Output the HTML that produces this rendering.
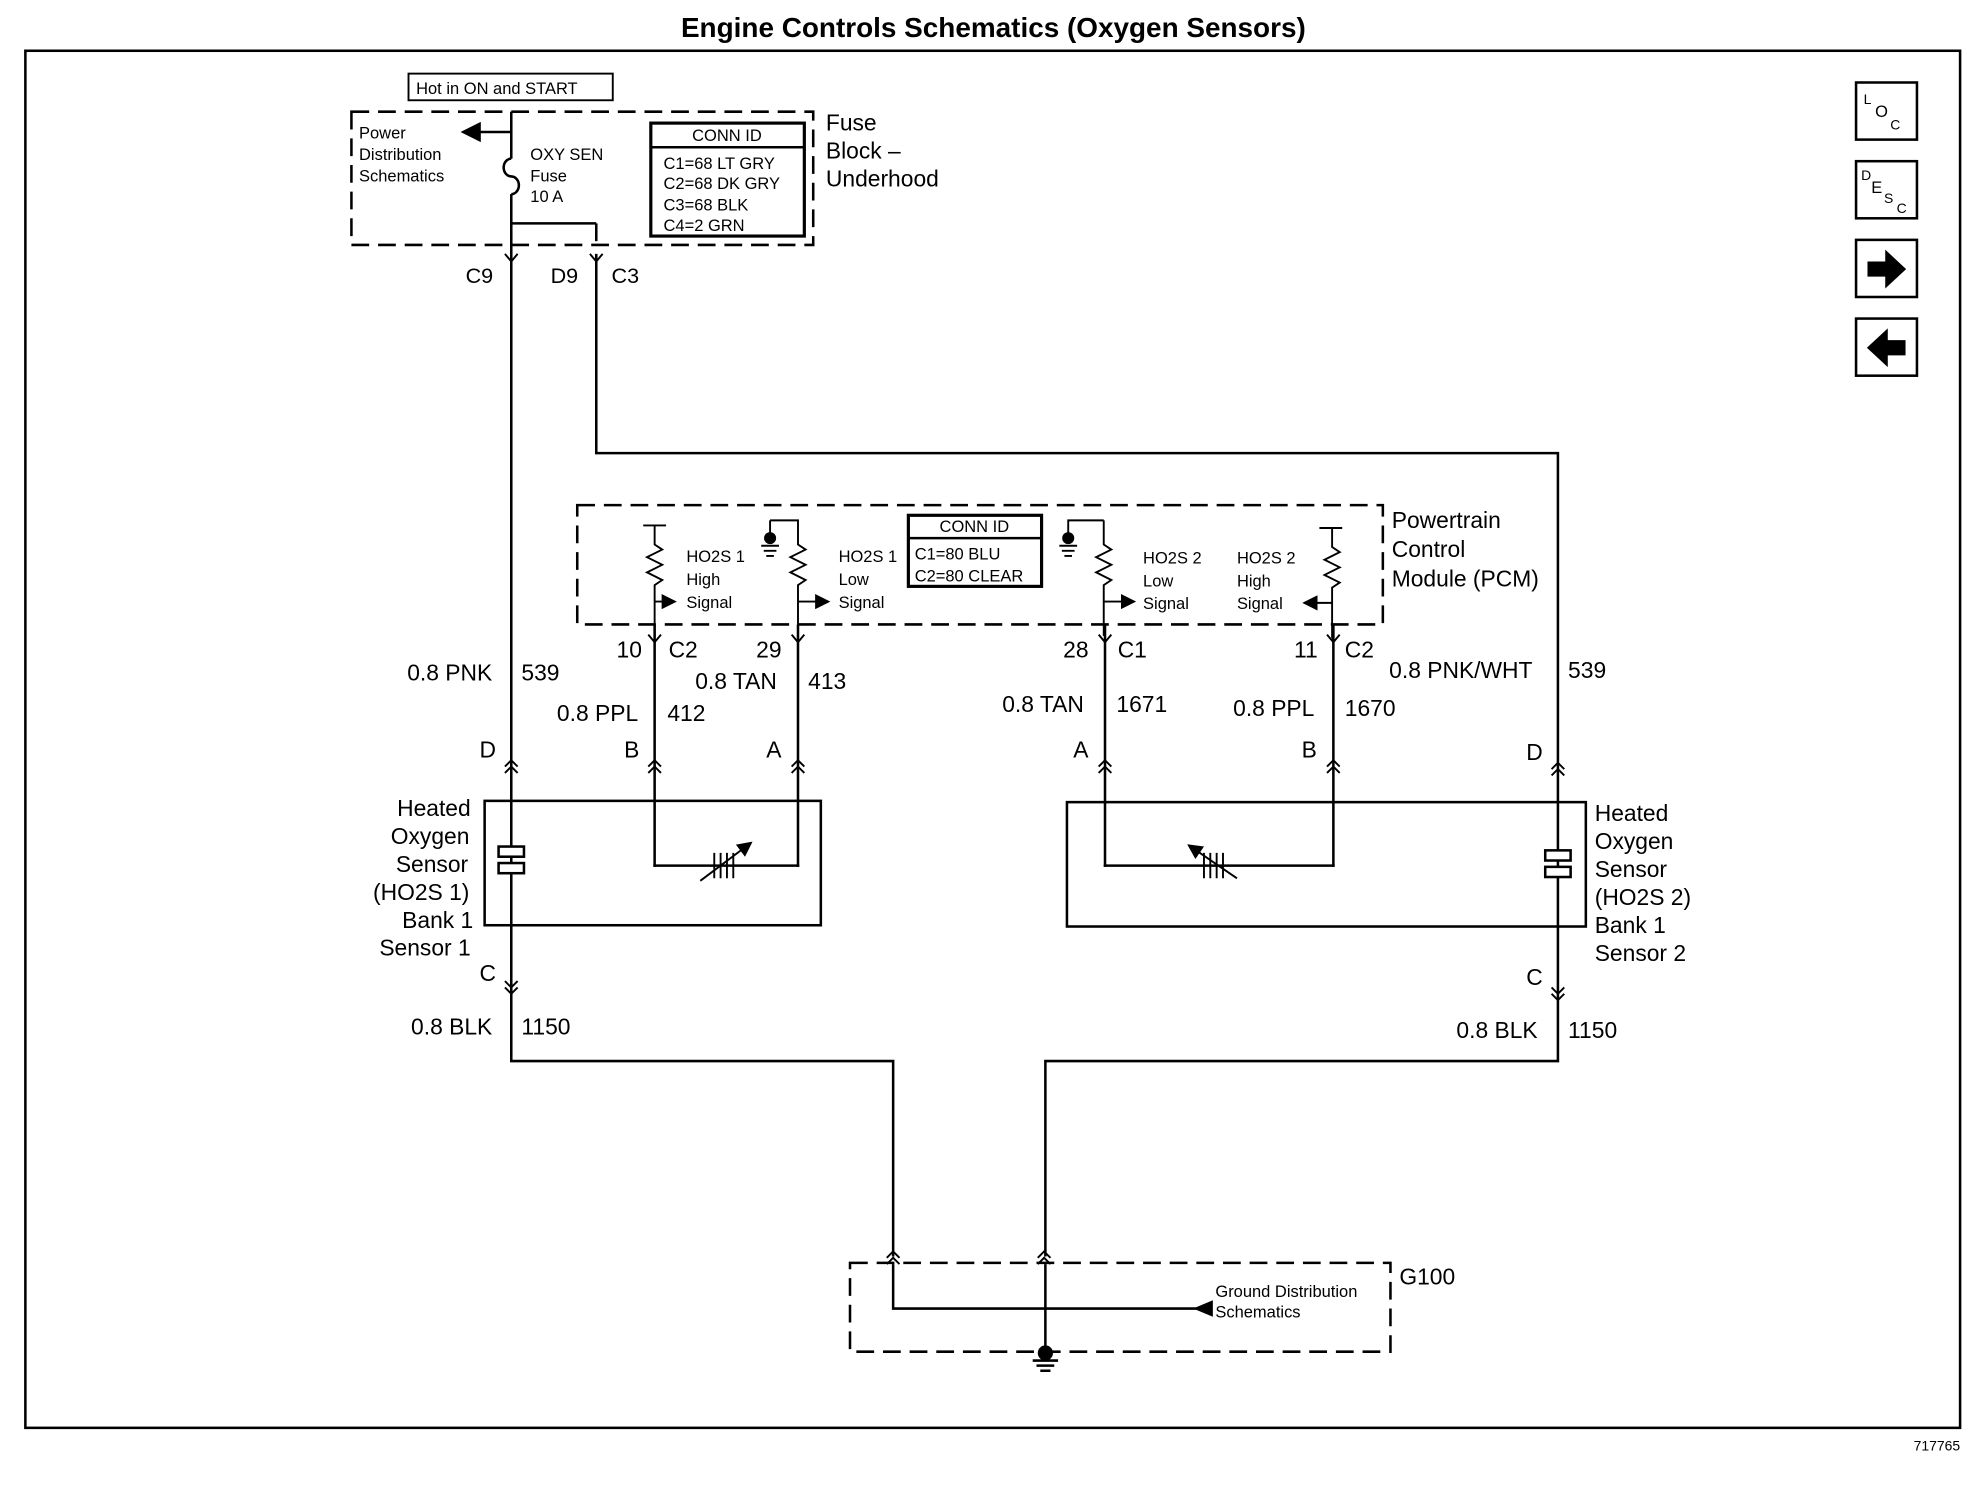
<!DOCTYPE html>
<html><head><meta charset="utf-8"><style>
html,body{margin:0;padding:0;background:#fff;}
svg{display:block;}
text{font-family:"Liberation Sans",Arial,sans-serif;fill:#000;}
</style></head><body>
<svg width="1988" height="1504" viewBox="0 0 1567 1185" preserveAspectRatio="none" xmlns="http://www.w3.org/2000/svg">
<defs>
<marker id="ah" markerWidth="8" markerHeight="8" refX="7" refY="4" orient="auto"><path d="M0,0 L8,4 L0,8z" fill="#000"/></marker>
</defs>
<g stroke="#000" fill="none" stroke-width="2">
<text x="783" y="29" text-anchor="middle" font-size="22" font-weight="bold" stroke="none">Engine Controls Schematics (Oxygen Sensors)</text>
<rect x="20" y="40" width="1525" height="1085"/>
<text x="1545" y="1143" font-size="11" text-anchor="end" stroke="none">717765</text>
<rect x="1463" y="65" width="48" height="45"/>
<text x="1469" y="82" font-size="11" stroke="none">L</text><text x="1478" y="92" font-size="13" stroke="none">O</text><text x="1490" y="102" font-size="11" stroke="none">C</text>
<rect x="1463" y="127" width="48" height="45"/>
<text x="1467" y="142" font-size="11" stroke="none">D</text><text x="1475" y="152" font-size="13" stroke="none">E</text><text x="1485" y="160" font-size="11" stroke="none">S</text><text x="1495" y="168" font-size="11" stroke="none">C</text>
<rect x="1463" y="189" width="48" height="45"/>
<path d="M1473,207 h14 v-8 l14,13 l-14,13 v-8 h-14z" fill="#000"/>
<rect x="1463" y="251" width="48" height="45"/>
<path d="M1501,269 h-14 v-8 l-14,13 l14,13 v-8 h14z" fill="#000"/>
<rect x="322" y="58" width="161" height="21" stroke-width="1.5"/>
<text x="328" y="74" font-size="13" stroke="none">Hot in ON and START</text>
<rect x="277" y="88" width="364" height="105" stroke-dasharray="14,7"/>
<text x="283" y="109" font-size="13" stroke="none">Power</text>
<text x="283" y="126" font-size="13" stroke="none">Distribution</text>
<text x="283" y="143" font-size="13" stroke="none">Schematics</text>
<line x1="403" y1="88" x2="403" y2="125"/>
<line x1="403" y1="104" x2="365" y2="104" marker-end="url(#ah)"/>
<path d="M403,125 a6,7 0 0 0 0,14 a6,7 0 0 1 0,14"/>
<line x1="403" y1="153" x2="403" y2="810"/>
<line x1="403" y1="176" x2="470" y2="176"/>
<line x1="470" y1="176" x2="470" y2="190"/>
<text x="418" y="126" font-size="13" stroke="none">OXY SEN</text>
<text x="418" y="143" font-size="13" stroke="none">Fuse</text>
<text x="418" y="159" font-size="13" stroke="none">10 A</text>
<rect x="513" y="97" width="121" height="89" stroke-width="2.5"/>
<line x1="513" y1="116" x2="634" y2="116"/>
<text x="573" y="111" font-size="13" text-anchor="middle" stroke="none">CONN ID</text>
<text x="523" y="133" font-size="13" stroke="none">C1=68 LT GRY</text>
<text x="523" y="149" font-size="13" stroke="none">C2=68 DK GRY</text>
<text x="523" y="166" font-size="13" stroke="none">C3=68 BLK</text>
<text x="523" y="182" font-size="13" stroke="none">C4=2 GRN</text>
<text x="651" y="103" font-size="18" stroke="none">Fuse</text>
<text x="651" y="125" font-size="18" stroke="none">Block –</text>
<text x="651" y="147" font-size="18" stroke="none">Underhood</text>
<path d="M398,200 l5,6 l5,-6 M465,200 l5,6 l5,-6" stroke-width="1.5"/>
<text x="367" y="223" font-size="17" stroke="none">C9</text>
<text x="434" y="223" font-size="17" stroke="none">D9</text>
<text x="482" y="223" font-size="17" stroke="none">C3</text>
<polyline points="470,200 470,357 1228,357 1228,810"/>
<rect x="455" y="398" width="635" height="94" stroke-dasharray="14,7"/>
<text x="1097" y="416" font-size="18" stroke="none">Powertrain</text>
<text x="1097" y="439" font-size="18" stroke="none">Control</text>
<text x="1097" y="462" font-size="18" stroke="none">Module (PCM)</text>
<rect x="716" y="406" width="105" height="56" stroke-width="2.5"/>
<line x1="716" y1="424" x2="821" y2="424"/>
<text x="768" y="419" font-size="13" text-anchor="middle" stroke="none">CONN ID</text>
<text x="721" y="441" font-size="13" stroke="none">C1=80 BLU</text>
<text x="721" y="458" font-size="13" stroke="none">C2=80 CLEAR</text>
<g stroke-width="1.5">
<path d="M507,414 h18 M516,414 v15 l6,4 l-12,6 l12,6 l-12,6 l12,6 l-6,4 v40"/>
<line x1="516" y1="474" x2="532" y2="474" marker-end="url(#ah)"/>
<path d="M607,410 h22 v19 l6,4 l-12,6 l12,6 l-12,6 l12,6 l-6,4 v40 M607,410 v14 M600,430 h14 M602,434 h10 M604,438 h6"/>
<circle cx="607" cy="424" r="4" fill="#000"/>
<line x1="629" y1="474" x2="653" y2="474" marker-end="url(#ah)"/>
<path d="M870,410 h-28 v14 M835,430 h14 M837,434 h10 M839,438 h6 M870,410 v19 l6,4 l-12,6 l12,6 l-12,6 l12,6 l-6,4 v40"/>
<circle cx="842" cy="424" r="4" fill="#000"/>
<line x1="870" y1="474" x2="894" y2="474" marker-end="url(#ah)"/>
<path d="M1040,416 h18 M1050,416 v15 l6,4 l-12,6 l12,6 l-12,6 l12,6 l-6,4 v40"/>
<line x1="1050" y1="475" x2="1028" y2="475" marker-end="url(#ah)"/>
</g>
<g font-size="13" stroke="none">
<text x="541" y="443">HO2S 1</text><text x="541" y="461">High</text><text x="541" y="479">Signal</text>
<text x="661" y="443">HO2S 1</text><text x="661" y="461">Low</text><text x="661" y="479">Signal</text>
<text x="901" y="444">HO2S 2</text><text x="901" y="462">Low</text><text x="901" y="480">Signal</text>
<text x="975" y="444">HO2S 2</text><text x="975" y="462">High</text><text x="975" y="480">Signal</text>
</g>
<path d="M511,500 l5,6 l5,-6 M624,500 l5,6 l5,-6 M866,500 l5,6 l5,-6 M1046,500 l5,6 l5,-6" stroke-width="1.5"/>
<line x1="516" y1="492" x2="516" y2="683"/>
<line x1="629" y1="492" x2="629" y2="683"/>
<line x1="871" y1="492" x2="871" y2="683"/>
<line x1="1051" y1="492" x2="1051" y2="683"/>
<g font-size="18" stroke="none">
<text x="486" y="518">10</text><text x="527" y="518">C2</text>
<text x="596" y="518">29</text>
<text x="838" y="518">28</text><text x="881" y="518">C1</text>
<text x="1020" y="518">11</text><text x="1060" y="518">C2</text>
<text x="321" y="536">0.8 PNK</text><text x="411" y="536">539</text>
<text x="548" y="543">0.8 TAN</text><text x="637" y="543">413</text>
<text x="439" y="568">0.8 PPL</text><text x="526" y="568">412</text>
<text x="790" y="561">0.8 TAN</text><text x="880" y="561">1671</text>
<text x="972" y="564">0.8 PPL</text><text x="1060" y="564">1670</text>
<text x="1095" y="534">0.8 PNK/WHT</text><text x="1236" y="534">539</text>
<text x="378" y="597">D</text><text x="492" y="597">B</text><text x="604" y="597">A</text>
<text x="846" y="597">A</text><text x="1026" y="597">B</text><text x="1203" y="599">D</text>
<text x="378" y="773">C</text><text x="1203" y="776">C</text>
<text x="324" y="815">0.8 BLK</text><text x="411" y="815">1150</text>
<text x="1148" y="818">0.8 BLK</text><text x="1236" y="818">1150</text>
<text x="313" y="643">Heated</text><text x="308" y="665">Oxygen</text><text x="312" y="687">Sensor</text>
<text x="294" y="709">(HO2S 1)</text><text x="317" y="731">Bank 1</text><text x="299" y="753">Sensor 1</text>
<text x="1257" y="647">Heated</text><text x="1257" y="669">Oxygen</text><text x="1257" y="691">Sensor</text>
<text x="1257" y="713">(HO2S 2)</text><text x="1257" y="735">Bank 1</text><text x="1257" y="757">Sensor 2</text>
<text x="1103" y="1012">G100</text>
</g>
<g stroke-width="1.5">
<path d="M398,604 l5,-5 l5,5 M398,609 l5,-5 l5,5"/>
<path d="M511,604 l5,-5 l5,5 M511,609 l5,-5 l5,5"/>
<path d="M624,604 l5,-5 l5,5 M624,609 l5,-5 l5,5"/>
<path d="M866,604 l5,-5 l5,5 M866,609 l5,-5 l5,5"/>
<path d="M1046,604 l5,-5 l5,5 M1046,609 l5,-5 l5,5"/>
<path d="M1223,606 l5,-5 l5,5 M1223,611 l5,-5 l5,5"/>
<path d="M398,773 l5,5 l5,-5 M398,778 l5,5 l5,-5"/>
<path d="M1223,778 l5,5 l5,-5 M1223,783 l5,5 l5,-5"/>
<path d="M699,991 l5,-5 l5,5 M699,996 l5,-5 l5,5"/>
<path d="M818,991 l5,-5 l5,5 M818,996 l5,-5 l5,5"/>
</g>
<rect x="382" y="631" width="265" height="98"/>
<rect x="841" y="632" width="409" height="98"/>
<polyline points="516,683 516,682 629,682 629,683"/>
<polyline points="871,683 871,682 1051,682 1051,683"/>
<g stroke-width="1.5">
<path d="M553,682 h10 M563,672 v20 M568,672 v20 M573,672 v20 M578,672 v20"/>
<line x1="552" y1="694" x2="592" y2="664" marker-end="url(#ah)"/>
<path d="M949,672 v20 M954,672 v20 M959,672 v20 M964,672 v20"/>
<line x1="975" y1="692" x2="937" y2="666" marker-end="url(#ah)"/>
</g>
<rect x="393" y="667" width="20" height="8" fill="#fff"/>
<rect x="393" y="680" width="20" height="8" fill="#fff"/>
<rect x="1218" y="670" width="20" height="8" fill="#fff"/>
<rect x="1218" y="683" width="20" height="8" fill="#fff"/>
<polyline points="403,810 403,836 704,836 704,990"/>
<polyline points="1228,810 1228,836 824,836 824,990"/>
<rect x="670" y="995" width="426" height="70" stroke-dasharray="14,7"/>
<polyline points="704,996 704,1031 955,1031"/>
<path d="M943,1031 l12,-5 v10z" fill="#000"/>
<line x1="824" y1="996" x2="824" y2="1072"/>
<circle cx="824" cy="1066" r="5" fill="#000"/>
<path d="M814,1072 h20 M817,1076 h14 M820,1080 h8"/>
<text x="958" y="1022" font-size="13" stroke="none">Ground Distribution</text>
<text x="958" y="1038" font-size="13" stroke="none">Schematics</text>
</g>
</svg>
</body></html>
